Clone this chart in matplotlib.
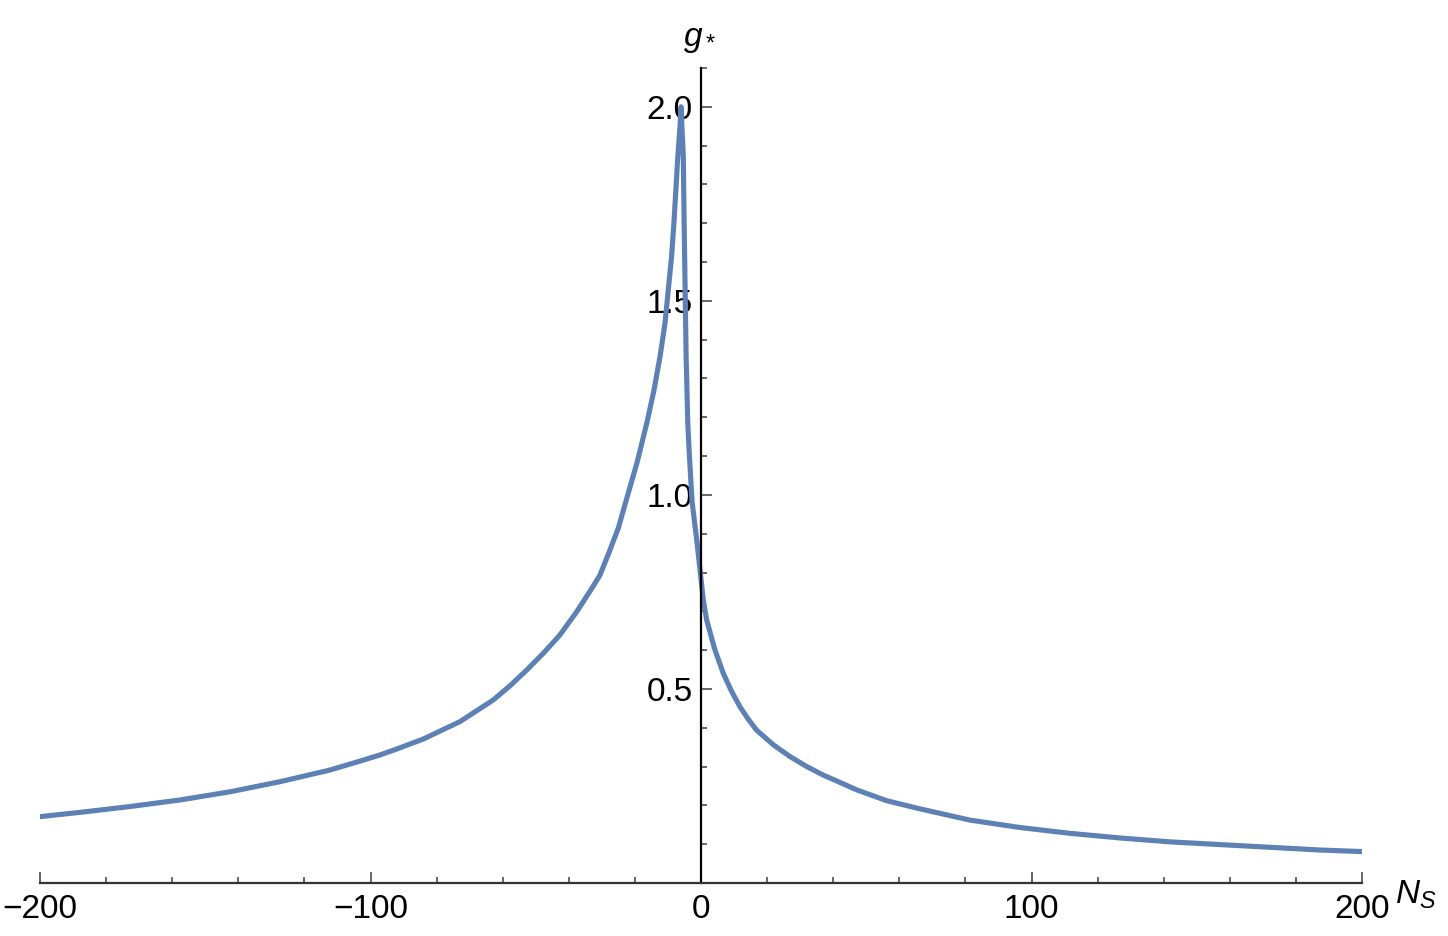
import matplotlib.pyplot as plt
from matplotlib.ticker import MultipleLocator

# values
n_s = [-200, -187.9, -172.8, -157.6, -142.5, -127.4, -112.3, -103.2, -97.1, -93.1,
       -84, -72.9, -62.8, -57.8, -52.7, -47.7, -42.7, -37.6, -32.6, -30.6,
       -28, -25, -22.5, -19.3, -16.4, -14.2, -12.4, -10.9, -9.9, -8.9, -8.2,
       -7.6, -7.1, -6.35, -6.05,
       -5.35, -5.1, -4.8, -4.5, -4.0, -3.5, -2.7, -1.3, -0.3, 0.7,
       1.7, 4.2, 6.75, 9.3, 11.8, 14.3, 16.8, 21.9, 26.9, 32,
       37, 42.1, 47.1, 56.2, 66.3, 81.4, 96.5, 111.6, 126.8, 141.9,
       157, 172.2, 187.3, 200]
g_star = [0.171, 0.182, 0.197, 0.214, 0.235, 0.261, 0.291, 0.314, 0.330, 0.342,
          0.371, 0.416, 0.472, 0.508, 0.549, 0.592, 0.639, 0.699, 0.765, 0.793,
          0.848, 0.915, 0.99, 1.085, 1.185, 1.271, 1.356, 1.442, 1.528, 1.614, 1.70,
          1.786, 1.86, 1.95, 2.0,
          1.872, 1.70, 1.528, 1.356, 1.185, 1.099, 0.983, 0.884, 0.807, 0.729,
          0.678, 0.601, 0.540, 0.493, 0.454, 0.422, 0.394, 0.356, 0.326, 0.300,
          0.278, 0.259, 0.240, 0.212, 0.191, 0.162, 0.143, 0.128, 0.116, 0.106,
          0.099, 0.092, 0.085, 0.081]

x_ticks = [-200, -100, 0, 100, 200]
y_ticks = [0.5, 1.0, 1.5, 2.0]

plt.rcParams["font.family"] = ["Liberation Sans", "DejaVu Sans"]
plt.rcParams["mathtext.fontset"] = "custom"
plt.rcParams["mathtext.rm"] = "Liberation Sans"
plt.rcParams["mathtext.it"] = "Liberation Sans:italic"

fig = plt.figure(figsize=(14.48, 9.36), dpi=100)
ax = fig.add_axes([40 / 1448, 53 / 936, 1322 / 1448, 815 / 936])

ax.plot(n_s, g_star, color="#5E81B5", linewidth=3.7, solid_joinstyle="round")

ax.set_xlim(-200, 200)
ax.set_ylim(0, 2.1)

ax.spines["top"].set_visible(False)
ax.spines["right"].set_visible(False)
ax.spines["left"].set_position(("data", 0))
ax.spines["bottom"].set_position(("data", 0))
for side in ["left", "bottom"]:
    ax.spines[side].set_linewidth(1.6)
    ax.spines[side].set_color("black")
ax.spines["bottom"].set_color("#333333")

ax.set_xticks(x_ticks)
ax.set_xticklabels(["\u2212200", "\u2212100", "0", "100", "200"])
ax.set_yticks(y_ticks)
ax.set_yticklabels(["0.5", "1.0", "1.5", "2.0"])
ax.xaxis.set_minor_locator(MultipleLocator(20))
ax.yaxis.set_minor_locator(MultipleLocator(0.1))

ax.tick_params(which="both", direction="in", color="#666666", width=1.4)
ax.tick_params(which="major", length=8, labelsize=24)
ax.tick_params(which="minor", length=4.5)
ax.tick_params(axis="x", which="major", pad=8)
ax.tick_params(axis="y", which="major", pad=6)

ax.annotate("$g_*$", xy=(0, 2.1), xycoords="data", xytext=(-18, 13),
            textcoords="offset pixels", fontsize=24, ha="left", va="bottom")
ax.annotate("$N_S$", xy=(200, 0), xycoords="data", xytext=(33, -12),
            textcoords="offset pixels", fontsize=24, ha="left", va="center")

fig.savefig("out.png", dpi=100)
plt.close(fig)
